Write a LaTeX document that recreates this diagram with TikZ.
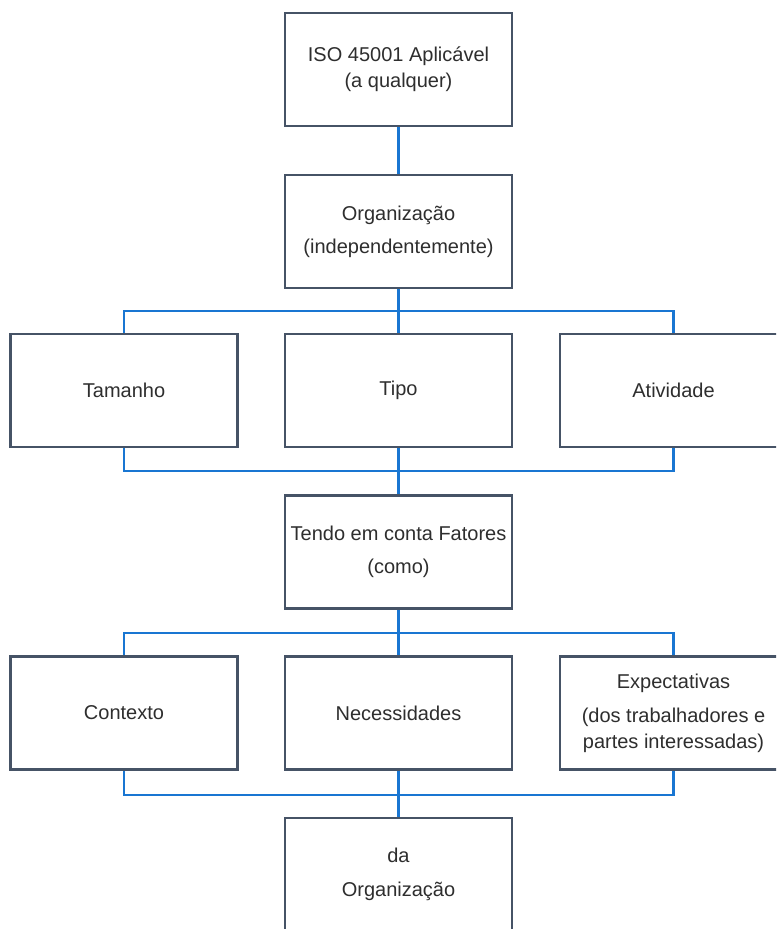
\documentclass[tikz,border=0pt]{standalone}
\usepackage{fontspec}
\setmainfont{Liberation Sans}
\usetikzlibrary{positioning}
\definecolor{boxedge}{HTML}{465366}
\definecolor{linkblue}{HTML}{1976D2}
\definecolor{txtgray}{HTML}{2E2E2E}

\tikzset{
  blk/.style={draw=boxedge, line width=2pt, fill=white, minimum width=227*0.75pt,
    minimum height=113*0.75pt, inner sep=0pt, align=center, text=txtgray,
    font=\fontsize{15}{25}\selectfont},
  link/.style={draw=linkblue, line width=1.6pt}
}

\begin{document}
\begin{tikzpicture}[x=0.75pt,y=-0.75pt]
			\clip (0,0) rectangle (776,929);
			\useasboundingbox (0,0) rectangle (776,929);
			\draw (398.5,69.5) node[blk, font=\fontsize{15}{19.5}\selectfont] (iso) {ISO 45001 Aplicável\\(a qualquer)}
			(398.5,231.5) node[blk] (org) {Organização\\(independentemente)}
			(124,390.5) node[blk] (tam) {Tamanho}
			(398.5,390.5) node[blk] (tipo) {Tipo}
			(673.5,390.5) node[blk] (ativ) {Atividade}
			(398.5,552) node[blk] (tendo) {Tendo em conta Fatores\\(como)}
			(124,713) node[blk] (cont) {Contexto}
			(398.5,713) node[blk] (nec) {Necessidades}
			(673.5,713) node[blk, font=\fontsize{15}{19.5}\selectfont] (exp) {Expectativas\\[6pt](dos trabalhadores e\\partes interessadas)}
			(398.5,874.5) node[blk] (da) {da\\Organização};
			
			\coordinate (bus1) at (398.5,311);
			\coordinate (bus2) at (398.5,471);
			\coordinate (bus3) at (398.5,633);
			\coordinate (bus4) at (398.5,795);
			
			\draw[link] (iso) -- (org);
			\draw[link] (org) -- (tipo);
			\draw[link] (tam.north) |- (bus1) -| (ativ.north);
			\draw[link] (tam.south) |- (bus2) -| (ativ.south);
			\draw[link] (tipo) -- (tendo);
			\draw[link] (tendo) -- (nec);
			\draw[link] (cont.north) |- (bus3) -| (exp.north);
			\draw[link] (cont.south) |- (bus4) -| (exp.south);
			\draw[link] (nec) -- (da);
		\end{tikzpicture}
\end{document}
